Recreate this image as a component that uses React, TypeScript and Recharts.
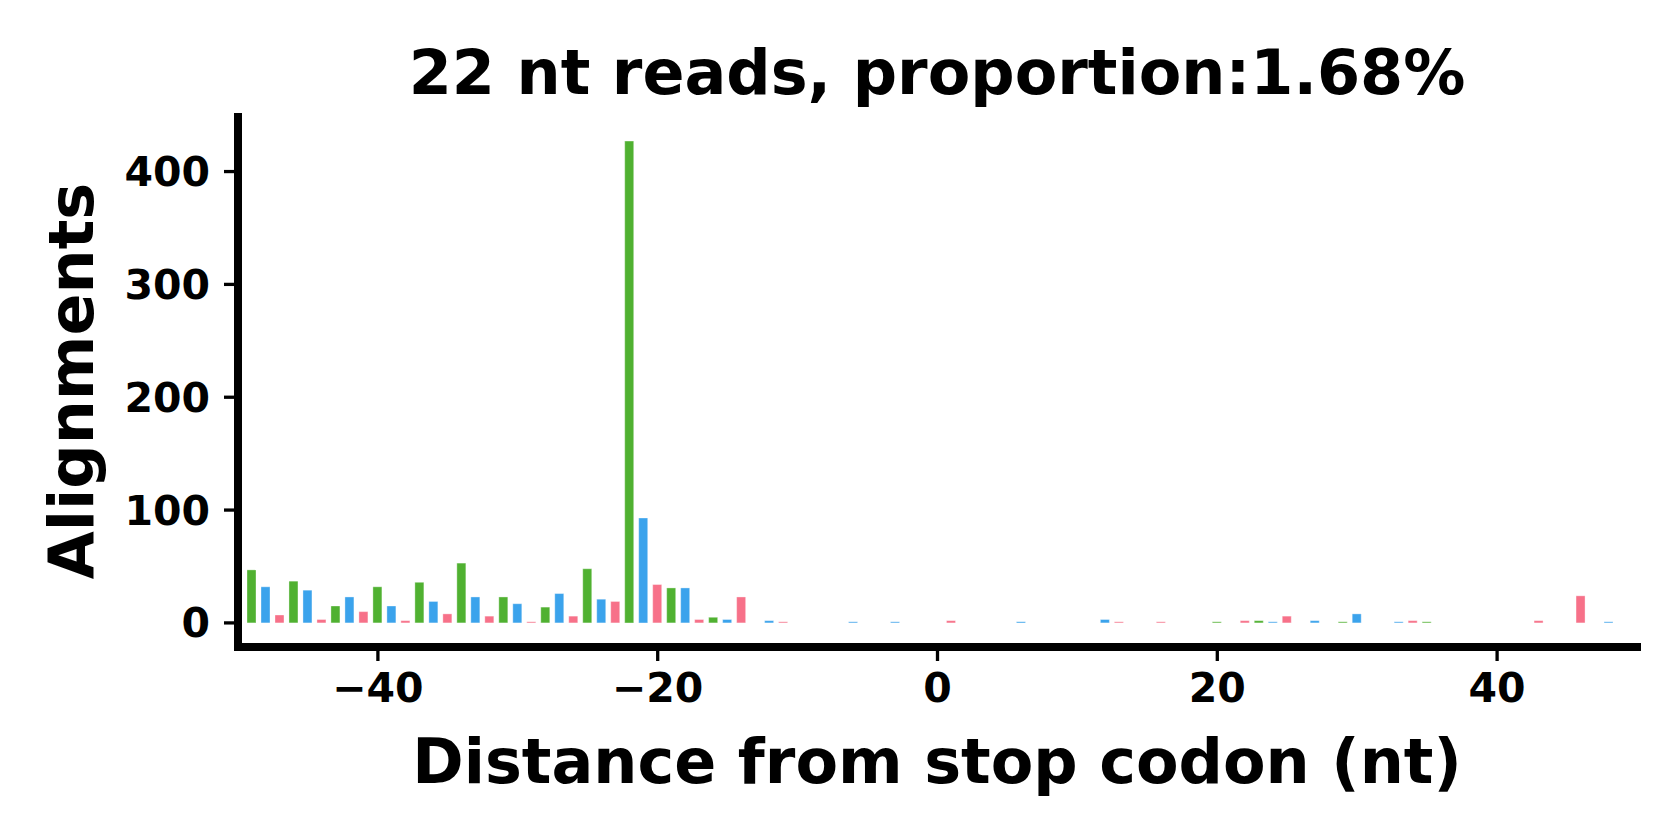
import { BarChart, Bar, XAxis, YAxis, Cell } from "recharts";

// distance from stop codon -> alignment count
const positions = [
    -49, -48, -47, -46, -45, -44, -43, -42, -41, -40,
    -39, -38, -37, -36, -35, -34, -33, -32, -31, -30,
    -29, -28, -27, -26, -25, -24, -23, -22, -21, -20,
    -19, -18, -17, -16, -15, -14, -12, -11, -6, -3,
    1, 6, 12, 13, 16, 20, 22, 23, 24, 25,
    27, 29, 30, 33, 34, 35, 43, 46, 48,
];
const counts = [
    47, 32, 7, 37, 29, 3, 15, 23, 10, 32,
    15, 2, 36, 19, 8, 53, 23, 6, 23, 17,
    1, 14, 26, 6, 48, 21, 19, 427, 93, 34,
    31, 31, 3, 5, 3, 23, 2, 1, 1, 1,
    2, 1, 3, 1, 1, 1, 2, 2, 1, 6,
    2, 1, 8, 1, 2, 1, 2, 24, 1,
];

const xTicks = [-40, -20, 0, 20, 40];
const yTicks = [0, 100, 200, 300, 400];

// reading frame colours (frame 0 anchored at -22)
const FRAME_COLORS = ["#50b131", "#3ba3ec", "#f77189"];
const frameOf = (p: number) => (((p + 22) % 3) + 3) % 3;

const FONT = "'DejaVu Sans', sans-serif";
const AXIS_LINE = { stroke: "#000", strokeWidth: 8, strokeLinecap: "square" as const };
const TICK_LINE = { stroke: "#000", strokeWidth: 3.3 };
const TICK_STYLE = { fontSize: 41, fontWeight: 700, fill: "#000", fontFamily: FONT };

const data = positions.map((pos, i) => ({ pos, count: counts[i] }));

export default function App() {
    return (
        <div style={{ position: "relative", width: 1680, height: 840, background: "#fff" }}>
            <style>{"body{margin:0}"}</style>
            <BarChart
                width={1680}
                height={840}
                data={data}
                margin={{ top: 117, right: 43, left: 0, bottom: 0 }}
            >
                <XAxis
                    dataKey="pos"
                    type="number"
                    domain={[-50, 50]}
                    ticks={xTicks}
                    allowDataOverflow
                    height={193}
                    axisLine={AXIS_LINE}
                    tickLine={TICK_LINE}
                    tickSize={14}
                    tickMargin={12}
                    tick={TICK_STYLE}
                    tickFormatter={(v: number) => String(v).replace("-", "\u2212")}
                />
                <YAxis
                    type="number"
                    domain={[-21.35, 448.35]}
                    ticks={yTicks}
                    allowDataOverflow
                    width={238}
                    axisLine={AXIS_LINE}
                    tickLine={TICK_LINE}
                    tickSize={14}
                    tickMargin={14}
                    tick={TICK_STYLE}
                />
                <Bar dataKey="count" barSize={9} isAnimationActive={false}>
                    {data.map((d, i) => (
                        <Cell key={`bar-${i}`} fill={FRAME_COLORS[frameOf(d.pos)]}
                            stroke="#fff" strokeOpacity={0.35} strokeWidth={1} />
                    ))}
                </Bar>
            </BarChart>
            <svg width={1680} height={840}
                style={{ position: "absolute", left: 0, top: 0, pointerEvents: "none" }}>
                <text x={937} y={94} textAnchor="middle" fontSize={62} fontWeight={700}
                    fontFamily={FONT} fill="#000">
                    22 nt reads, proportion:1.68%
                </text>
                <text x={937} y={783} textAnchor="middle" fontSize={62} fontWeight={700}
                    fontFamily={FONT} fill="#000">
                    Distance from stop codon (nt)
                </text>
                <text x={93} y={381} textAnchor="middle" fontSize={62} fontWeight={700}
                    fontFamily={FONT} fill="#000" transform="rotate(-90 93 381)">
                    Alignments
                </text>
            </svg>
        </div>
    );
}
